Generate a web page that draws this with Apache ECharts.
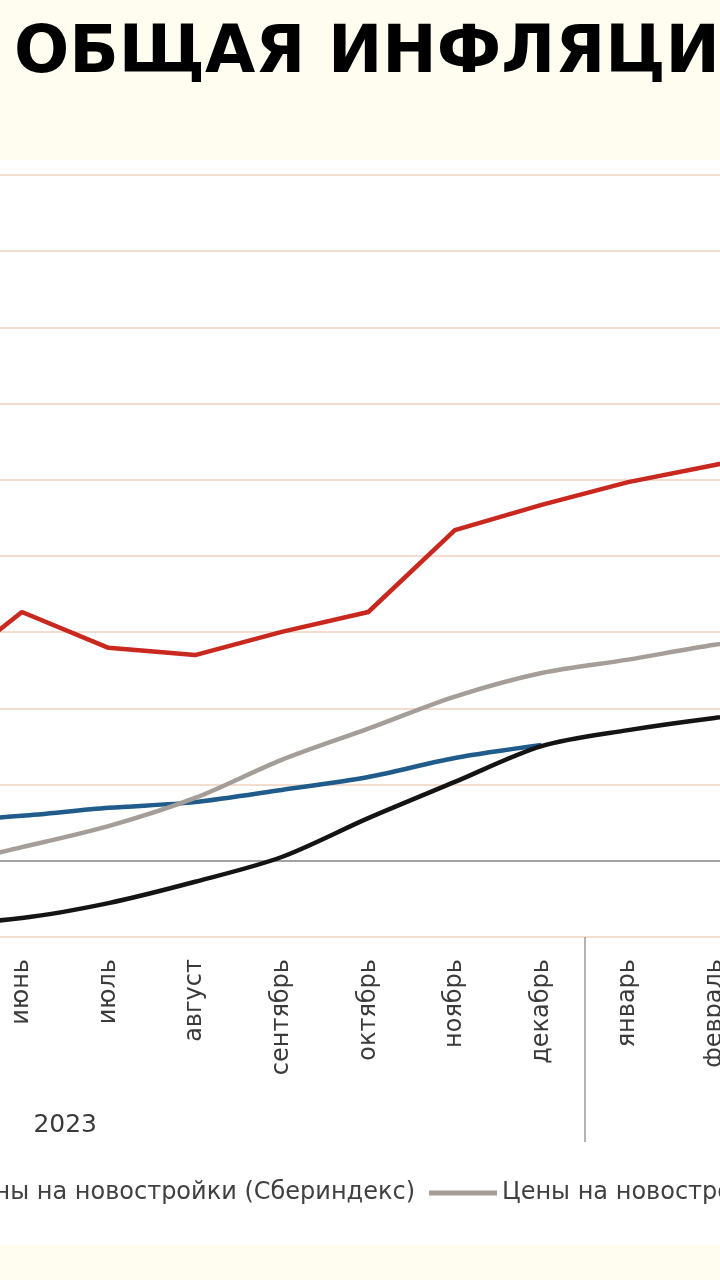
<!DOCTYPE html>
<html><head><meta charset="utf-8">
<script src="https://cdn.jsdelivr.net/npm/echarts/dist/echarts.min.js"></script>
<style>html,body{margin:0;padding:0;background:#FFFDF0}#c{width:720px;height:1280px}</style>
</head><body><div id="c"></div><script>
// ---- data ----
const months = ['январь','февраль','март','апрель','май','июнь','июль','август','сентябрь','октябрь','ноябрь','декабрь','январь','февраль','март','апрель'];
const years = ['2023', '2024'];
const yearStart = [0, 12];   // index of first month of each year group
const yearLen = [12, 4];
const nameBlack = 'Общая инфляция';
const nameBlue = 'Цены на новостройки (Сбериндекс)';
const nameGray = 'Цены на новостройки (Росстат)';
const nameRed = 'Цены на вторичное жильё (Росстат)';
const valuesBlack = [-1.2, -1.4, -1.55, -1.65, -1.66, -1.50, -1.11, -0.55, 0.10, 1.12, 2.07, 3.01, 3.43, 3.75, 4.0, 4.2];
const valuesBlue  = [0.5, 0.6, 0.75, 0.9, 1.02, 1.18, 1.39, 1.54, 1.86, 2.20, 2.70, 3.04, null, null, null, null];
const valuesGray  = [-0.8, -0.7, -0.5, -0.3, -0.14, 0.36, 0.91, 1.65, 2.65, 3.47, 4.31, 4.93, 5.28, 5.67, 5.95, 6.2];
const valuesRed   = [3.5, 3.8, 4.0, 4.3, 4.72, 6.53, 5.59, 5.40, 6.01, 6.53, 8.68, 9.34, 9.94, 10.39, 10.83, 11.2];
const yMin = -2, yMax = 18, yStep = 2;

// ---- layout ----
const W = 720, H = 1280;
const band = 86.6;
const gridLeft = -454.4;
const gridTop = 175, gridBottomY = 937;
const gridWidth = band * months.length;

const FONT = '"DejaVu Sans", sans-serif';
const legendFont = 24;
const ctx = document.createElement('canvas').getContext('2d');
ctx.font = legendFont + 'px "DejaVu Sans"';
const tw = t => ctx.measureText(t).width;
const ICON = 68, ITEM_GAP = 14;
const legendLeft = 429 - (ICON + 5 + tw(nameBlack) + ITEM_GAP + ICON + 5 + tw(nameBlue) + ITEM_GAP);

const nLines = Math.round((yMax - yMin) / yStep) + 1;
const splitColors = [];
for (let i = 0; i < nLines; i++) {
  splitColors.push(yMin + i * yStep === 0 ? '#A3A3A3' : '#F3DDCF');
}

const chart = echarts.init(document.getElementById('c'), null, {renderer: 'canvas'});
const lineW = 4.5;
chart.setOption({
  backgroundColor: '#FFFDF0',
  animation: false,
  graphic: [{
    type: 'rect', z: -10, silent: true,
    shape: {x: 0, y: 160, width: W, height: 1085},
    style: {fill: '#FFFFFF'}
  }],
  title: {
    text: 'ОБЩАЯ ИНФЛЯЦИЯ',
    left: 9, top: 18,
    textStyle: {fontFamily: FONT, fontWeight: 'bold', fontSize: 65, color: '#000'}
  },
  legend: {
    data: [nameBlack, nameBlue, nameGray, nameRed],
    left: legendLeft, top: 1181, width: 4000, padding: 0,
    icon: 'rect',
    itemWidth: ICON, itemHeight: 5, itemGap: ITEM_GAP,
    textStyle: {fontFamily: FONT, fontSize: legendFont, color: '#404040'}
  },
  grid: {
    left: gridLeft, top: gridTop, width: gridWidth, height: gridBottomY - gridTop,
    containLabel: false, outerBoundsMode: 'none'
  },
  xAxis: [{
    type: 'category',
    data: months,
    boundaryGap: true,
    axisLine: {show: false, onZero: false},
    axisTick: {
      show: true, alignWithLabel: false, length: 205,
      interval: (i) => yearStart.indexOf(i) >= 0,
      lineStyle: {color: '#9A9A9A', width: 1.5}
    },
    axisLabel: {
      interval: 0, rotate: 90, margin: 22,
      fontFamily: FONT, fontSize: 24, color: '#3A3A3A'
    }
  }, {
    type: 'value',
    position: 'bottom',
    offset: 172,
    min: 0, max: months.length, interval: 0.5,
    axisLine: {show: false, onZero: false}, axisTick: {show: false}, splitLine: {show: false},
    axisLabel: {
      margin: 4, fontFamily: FONT, fontSize: 25, color: '#3A3A3A',
      showMinLabel: true, showMaxLabel: true,
      formatter: (v) => {
        for (let k = 0; k < years.length; k++) {
          if (Math.abs(v - (yearStart[k] + yearLen[k] / 2)) < 1e-6) return years[k];
        }
        return '';
      }
    }
  }],
  yAxis: {
    type: 'value', min: yMin, max: yMax, interval: yStep,
    axisLine: {show: false}, axisTick: {show: false},
    axisLabel: {fontFamily: FONT, fontSize: 22, color: '#404040'},
    splitLine: {show: true, lineStyle: {color: splitColors, width: 2}}
  },
  series: [
    {name: nameBlue, type: 'line', data: valuesBlue, smooth: 0.3, symbol: 'none',
     lineStyle: {color: '#1F5C8C', width: lineW}, itemStyle: {color: '#1F5C8C'}, z: 2},
    {name: nameGray, type: 'line', data: valuesGray, smooth: 0.3, symbol: 'none',
     lineStyle: {color: '#A59E98', width: lineW}, itemStyle: {color: '#A59E98'}, z: 3},
    {name: nameBlack, type: 'line', data: valuesBlack, smooth: 0.3, symbol: 'none',
     lineStyle: {color: '#141414', width: lineW}, itemStyle: {color: '#141414'}, z: 4},
    {name: nameRed, type: 'line', data: valuesRed, smooth: false, symbol: 'none',
     lineStyle: {color: '#C8281E', width: lineW}, itemStyle: {color: '#C8281E'}, z: 5}
  ]
});
</script></body></html>
